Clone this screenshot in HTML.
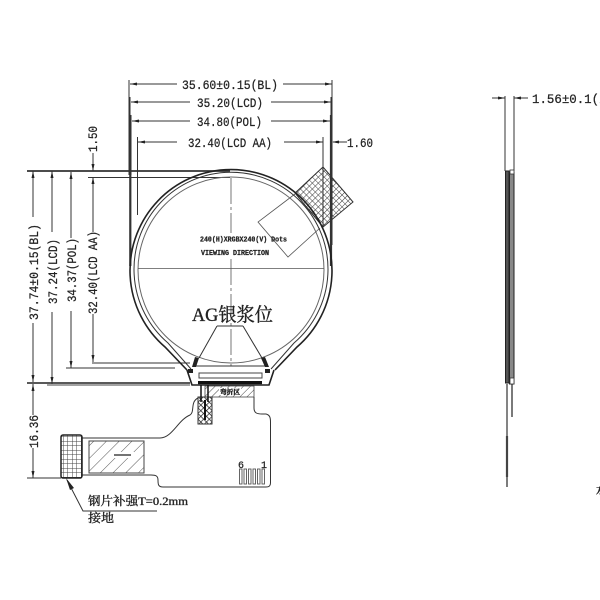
<!DOCTYPE html>
<html><head><meta charset="utf-8"><style>
html,body{margin:0;padding:0;background:#fff;width:600px;height:600px;overflow:hidden}
svg{display:block}
text{font-family:"Liberation Mono","Noto Serif CJK SC",monospace;fill:#222;stroke:#222;stroke-width:.25}
text.c{font-family:"Liberation Serif","Noto Serif CJK SC",serif;stroke-width:.35}
.l{stroke:#333;stroke-width:1;fill:none}
.t{stroke:#555;stroke-width:.8;fill:none}
.k{stroke:#222;stroke-width:1.6;fill:none}
.a{fill:#222;stroke:none}
</style></head><body>
<svg width="600" height="600" viewBox="0 0 600 600" xmlns="http://www.w3.org/2000/svg">
<defs>
<pattern id="g" width="4.200" height="4.200" patternUnits="userSpaceOnUse" patternTransform="rotate(45 320 200)"><path d="M0 0H4.200M0 0V4.200" stroke="#333" stroke-width="1"/></pattern>
<pattern id="g2" width="4.500" height="4.500" patternUnits="userSpaceOnUse"><path d="M0 0H4.500M0 0V4.500" stroke="#444" stroke-width="1"/></pattern>
<pattern id="b" width="4" height="4" patternUnits="userSpaceOnUse" patternTransform="rotate(45)"><path d="M0 0H4M0 0V4" stroke="#222" stroke-width="1.400"/></pattern>
<pattern id="h" width="9" height="9" patternUnits="userSpaceOnUse" patternTransform="rotate(45)"><path d="M0 0V9" stroke="#555" stroke-width="1"/></pattern>
<pattern id="h2" width="5" height="5" patternUnits="userSpaceOnUse" patternTransform="rotate(45)"><path d="M0 0V5" stroke="#444" stroke-width="1"/></pattern>
</defs>

<!-- top dimension extension lines -->
<path class="l" d="M129 80V175M130 97V175M131 115V175M137.500 137V215M332 80V245M331 97V245M323 137V227"/>
<path d="M130.300 115V266M331 115V266" stroke="#333" stroke-width="2.200" fill="none"/>
<!-- top dims -->
<path class="l" d="M130 84H177M283 84H332M131 102H190M271 102H331M132 121H190M271 121H330M138 142H177M284 142H323M315 142H323M333 142H347"/>
<path class="a" d="M130 84l7-1.500v3zM332 84l-7-1.500v3zM131 102l7-1.500v3zM331 102l-7-1.500v3zM132 121l7-1.500v3zM330 121l-7-1.500v3zM138 142l7-1.500v3zM323 142l-7-1.500v3zM332 142l7-1.500v3z"/>
<text x="182" y="89" font-size="13" textLength="96" lengthAdjust="spacingAndGlyphs">35.60±0.15(BL)</text>
<text x="197" y="107" font-size="13" textLength="66" lengthAdjust="spacingAndGlyphs">35.20(LCD)</text>
<text x="197" y="126" font-size="13" textLength="65" lengthAdjust="spacingAndGlyphs">34.80(POL)</text>
<text x="188" y="147" font-size="13" textLength="84" lengthAdjust="spacingAndGlyphs">32.40(LCD AA)</text>
<text x="347" y="147" font-size="13" textLength="26" lengthAdjust="spacingAndGlyphs">1.60</text>

<!-- left horizontal extension lines -->
<path d="M27 171H230" stroke="#333" stroke-width="1.800" fill="none"/>
<path class="l" d="M88 177.500H230M92 363H190M66 368H175M27 478H61"/>
<path d="M27 383H190" stroke="#222" stroke-width="1.500"/>
<path d="M47 385H190" stroke="#444" stroke-width="1"/>
<!-- left dims -->
<path class="l" d="M33 171V217M33 323V382M33 384V415M52 171V232M52 312V384M71 172V238M71 311V368M93 153V171M93 177V232M93 314V362M33 448V478"/>
<path class="a" d="M33 171l-1.500 7h3zM33 382l-1.500-7h3zM33 384l-1.500 7h3zM52 171l-1.500 7h3zM52 384l-1.500-7h3zM71 172l-1.500 7h3zM71 368l-1.500-7h3zM93 171l-1.500-7h3zM93 177l-1.500 7h3zM93 362l-1.500-7h3zM33 478l-1.500-7h3z"/>
<text transform="translate(38,320) rotate(-90)" font-size="13" textLength="96" lengthAdjust="spacingAndGlyphs">37.74±0.15(BL)</text>
<text transform="translate(57,304) rotate(-90)" font-size="13" textLength="65" lengthAdjust="spacingAndGlyphs">37.24(LCD)</text>
<text transform="translate(76,302) rotate(-90)" font-size="13" textLength="64" lengthAdjust="spacingAndGlyphs">34.37(POL)</text>
<text transform="translate(97,314) rotate(-90)" font-size="13" textLength="83" lengthAdjust="spacingAndGlyphs">32.40(LCD AA)</text>
<text transform="translate(97,152) rotate(-90)" font-size="13" textLength="26" lengthAdjust="spacingAndGlyphs">1.50</text>
<text transform="translate(38,448) rotate(-90)" font-size="13" textLength="33" lengthAdjust="spacingAndGlyphs">16.36</text>

<!-- FPC tail top right -->
<path d="M323 167L353 202L323 227L295 193Z" fill="url(#g)" stroke="#333" stroke-width="1"/>
<path class="t" d="M295 194L258 222L288 257L320 228"/>

<!-- panel outlines -->
<path class="k" d="M187 370L165 347A101 101 0 1 1 297 347L275 370" stroke-width="1.800"/>
<path class="l" d="M191 369L168 343A97 97 0 1 1 294 343L271 369"/>
<circle cx="231" cy="270" r="93" fill="none" stroke="#666" stroke-width="1"/>
<!-- center lines -->
<path class="t" d="M231 178V233M231 259V366" stroke-dasharray="26 3 3 3"/>
<path class="t" d="M138 268.500H324"/>
<!-- bottom neck -->
<path class="k" d="M187 370L192 385H269L274 370"/>
<path class="l" d="M193 366H268"/>
<rect x="199" y="373" width="63" height="5" fill="none" stroke="#444"/>
<rect x="198" y="381" width="64" height="3.200" fill="#111"/>
<rect x="188" y="369" width="5" height="4" fill="#222"/>
<rect x="265" y="369" width="5" height="4" fill="#222"/>
<path d="M195 357L199 358L196 367L192 367Z" fill="#222"/>
<path d="M261 358L265 357L269 367L265 367Z" fill="#222"/>
<path class="l" d="M217 326L199 358M243 326L262 358M217 326H243"/>
<text class="c" x="192" y="321" font-size="19" textLength="81" lengthAdjust="spacingAndGlyphs">AG银浆位</text>

<text x="200" y="241.500" font-size="7" font-weight="bold" textLength="87" lengthAdjust="spacingAndGlyphs">240(H)XRGBX240(V) Dots</text>
<text x="201" y="255" font-size="7" font-weight="bold" textLength="68" lengthAdjust="spacingAndGlyphs">VIEWING DIRECTION</text>

<!-- FPC bend -->
<rect x="205" y="386" width="49" height="11" fill="url(#h2)" stroke="#444" stroke-width=".8"/>
<rect x="219" y="388" width="22" height="7" fill="#fff"/>
<text class="c" x="220" y="394" font-size="6.500" font-weight="bold" textLength="20" lengthAdjust="spacingAndGlyphs">弯折区</text>
<rect x="198" y="397" width="14" height="27" fill="url(#b)" stroke="#333"/>
<path d="M201 385V402M208 385V402" stroke="#111" stroke-width="1.500"/>
<path d="M205 400V420" stroke="#111" stroke-width="2"/>
<!-- FPC outline -->
<path class="l" d="M82 438H160C172 438 178 420 190 415C195 412 190 402 198 398M254 397V408C254 413 257 414 262 414H266C270 415 270.500 418 270.500 422V483C270.500 486 269 487 266 487H163C158 487 158 484 158 480C158 476 156 475 151 475H82"/>
<!-- stiffener -->
<rect x="61" y="435" width="21" height="43" rx="2" fill="url(#g2)" stroke="#222" stroke-width="1.500"/>
<!-- hatch area -->
<rect x="89" y="441" width="55" height="32" fill="url(#h)" stroke="#444" stroke-width="1"/>
<rect x="112" y="452" width="22" height="6" fill="#fff"/>
<path d="M114 455H131" stroke="#222" stroke-width="1.300"/>
<!-- contacts -->
<g fill="none" stroke="#555" stroke-width=".9">
<rect x="239.500" y="469" width="2.500" height="15"/>
<rect x="244" y="469" width="2.500" height="15"/>
<rect x="248.500" y="469" width="2.500" height="15"/>
<rect x="253" y="469" width="2.500" height="15"/>
<rect x="257.500" y="469" width="2.500" height="15"/>
<rect x="262" y="469" width="2.500" height="15"/>
</g>
<text x="238" y="468" font-size="10">6</text>
<text x="261" y="468" font-size="10">1</text>
<!-- leader -->
<path class="l" d="M67 480L83 511H157"/>
<path class="a" d="M66 478L74 488L70 490Z"/>
<text class="c" x="88" y="505" font-size="12" textLength="100" lengthAdjust="spacingAndGlyphs">钢片补强T=0.2mm</text>
<text class="c" x="88" y="522" font-size="12" textLength="26" lengthAdjust="spacingAndGlyphs">接地</text>

<!-- side view -->
<path class="l" d="M505 96V171M514 96V171"/>
<path class="l" d="M492 98H505M514 98H528"/>
<path class="a" d="M505 98l-7-1.500v3zM514 98l7-1.500v3z"/>
<text x="532" y="103" font-size="13" textLength="82" lengthAdjust="spacingAndGlyphs">1.56±0.1(2)</text>
<rect x="505.500" y="171" width="3.500" height="212" fill="#555" stroke="#222" stroke-width="1"/>
<rect x="509.500" y="172" width="4.500" height="212" fill="#888" stroke="#222" stroke-width="1"/>
<rect x="510" y="170" width="4" height="4" fill="#fff" stroke="#333" stroke-width=".8"/>
<rect x="510" y="378" width="4" height="6" fill="#fff" stroke="#333" stroke-width=".8"/>
<path d="M507 384V436" stroke="#333" stroke-width="1.200"/>
<path d="M512 384V417" stroke="#222" stroke-width="1.200"/>
<path d="M507 436V477" stroke="#444" stroke-width="2.200"/>
<path d="M507 477V487" stroke="#444" stroke-width="1.400"/>
<text class="c" x="596" y="494" font-size="12" font-weight="bold">水</text>
</svg>
</body></html>
